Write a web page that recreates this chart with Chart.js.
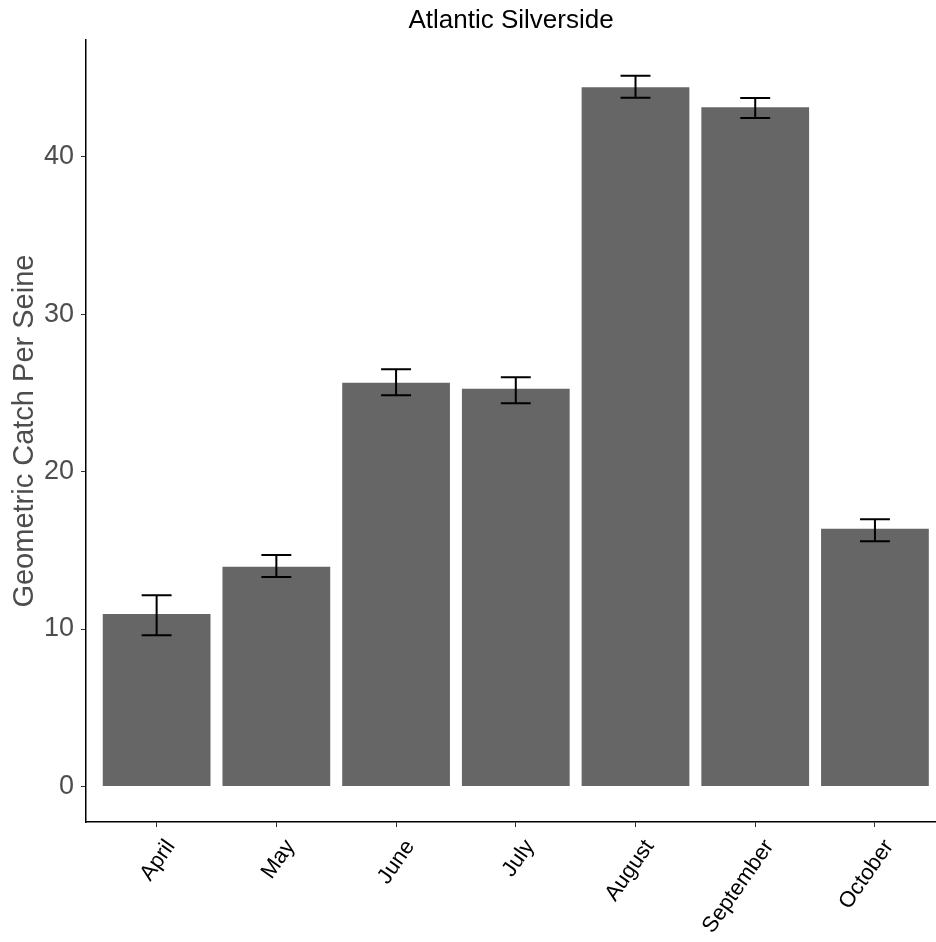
<!DOCTYPE html>
<html>
<head>
<meta charset="utf-8">
<script src="https://cdn.jsdelivr.net/npm/chart.js@4/dist/chart.umd.min.js"></script>
<style>
  html, body { margin: 0; padding: 0; background: #ffffff; }
  #wrap { width: 936px; height: 942px; position: relative; }
</style>
</head>
<body>
<div id="wrap"><canvas id="c" width="936" height="942"></canvas></div>
<script>
// Monthly geometric mean catch per seine haul, with lower/upper error limits
const months = ['April', 'May', 'June', 'July', 'August', 'September', 'October'];
const catchMean = [10.95, 13.95, 25.65, 25.27, 44.42, 43.15, 16.37];
const errLow = [9.6, 13.3, 24.85, 24.35, 43.76, 42.47, 15.58];
const errHigh = [12.15, 14.7, 26.5, 26.0, 45.15, 43.74, 16.97];
const yTicks = [0, 10, 20, 30, 40];

const FONT = "'Liberation Sans', Arial, sans-serif";

// Whiskers drawn on top of the bars using the chart's scales
const errorBars = {
  id: 'errorBars',
  afterDatasetsDraw(chart) {
    const ctx = chart.ctx;
    const xs = chart.scales.x, ys = chart.scales.y;
    const unit = xs.getPixelForValue(1) - xs.getPixelForValue(0);
    const half = unit * 0.125;
    ctx.save();
    ctx.strokeStyle = '#000000';
    ctx.lineWidth = 2;
    ctx.lineCap = 'butt';
    months.forEach((m, i) => {
      const x = xs.getPixelForValue(i);
      const yl = ys.getPixelForValue(errLow[i]);
      const yh = ys.getPixelForValue(errHigh[i]);
      ctx.beginPath();
      ctx.moveTo(x, yl); ctx.lineTo(x, yh);
      ctx.moveTo(x - half, yh); ctx.lineTo(x + half, yh);
      ctx.moveTo(x - half, yl); ctx.lineTo(x + half, yl);
      ctx.stroke();
    });
    ctx.restore();
  }
};

new Chart(document.getElementById('c'), {
  type: 'bar',
  data: {
    datasets: [{
      data: months.map((m, i) => ({ x: i, y: catchMean[i] })),
      backgroundColor: '#666666',
      borderWidth: 0,
      barPercentage: 0.9,
      categoryPercentage: 1.0
    }]
  },
  options: {
    responsive: false,
    animation: false,
    layout: { padding: { left: 0, right: 0, top: 0, bottom: 0 } },
    plugins: {
      legend: { display: false },
      tooltip: { enabled: false },
      title: {
        display: true,
        text: 'Atlantic Silverside',
        fullSize: false,
        color: '#000000',
        font: { family: FONT, size: 26, weight: 'normal' },
        padding: { top: 5, bottom: 4 }
      }
    },
    scales: {
      x: {
        type: 'linear',
        min: -0.59,
        max: 6.51,
        offset: false,
        grid: { display: true, offset: false, drawOnChartArea: false, tickLength: 5, color: '#333333', lineWidth: 1 },
        border: { display: true, color: '#000000', width: 1.5 },
        ticks: {
          stepSize: 1,
          autoSkip: false,
          minRotation: 55,
          maxRotation: 55,
          padding: 8,
          labelOffset: 14,
          color: '#000000',
          font: { family: FONT, size: 22 },
          callback: (v) => months[v]
        },
        afterBuildTicks(scale) {
          scale.ticks = months.map((m, i) => ({ value: i }));
        },
        afterFit(scale) {
          scale.height = 120;
          scale.paddingLeft = 0;
          scale.paddingRight = 0;
        }
      },
      y: {
        min: -2.26,
        max: 47.41,
        grid: { display: true, drawOnChartArea: false, tickLength: 5, color: '#333333', lineWidth: 1 },
        border: { display: true, color: '#000000', width: 1.5 },
        ticks: {
          padding: 7,
          color: '#4d4d4d',
          font: { family: FONT, size: 27 }
        },
        afterBuildTicks(scale) {
          scale.ticks = yTicks.map(v => ({ value: v }));
        },
        title: {
          display: true,
          text: 'Geometric Catch Per Seine',
          color: '#4d4d4d',
          font: { family: FONT, size: 29 },
          padding: { top: 8, bottom: 0 }
        },
        afterFit(scale) {
          scale.width = 86;
          scale.paddingTop = 0;
          scale.paddingBottom = 0;
        }
      }
    }
  },
  plugins: [errorBars]
});
</script>
</body>
</html>
